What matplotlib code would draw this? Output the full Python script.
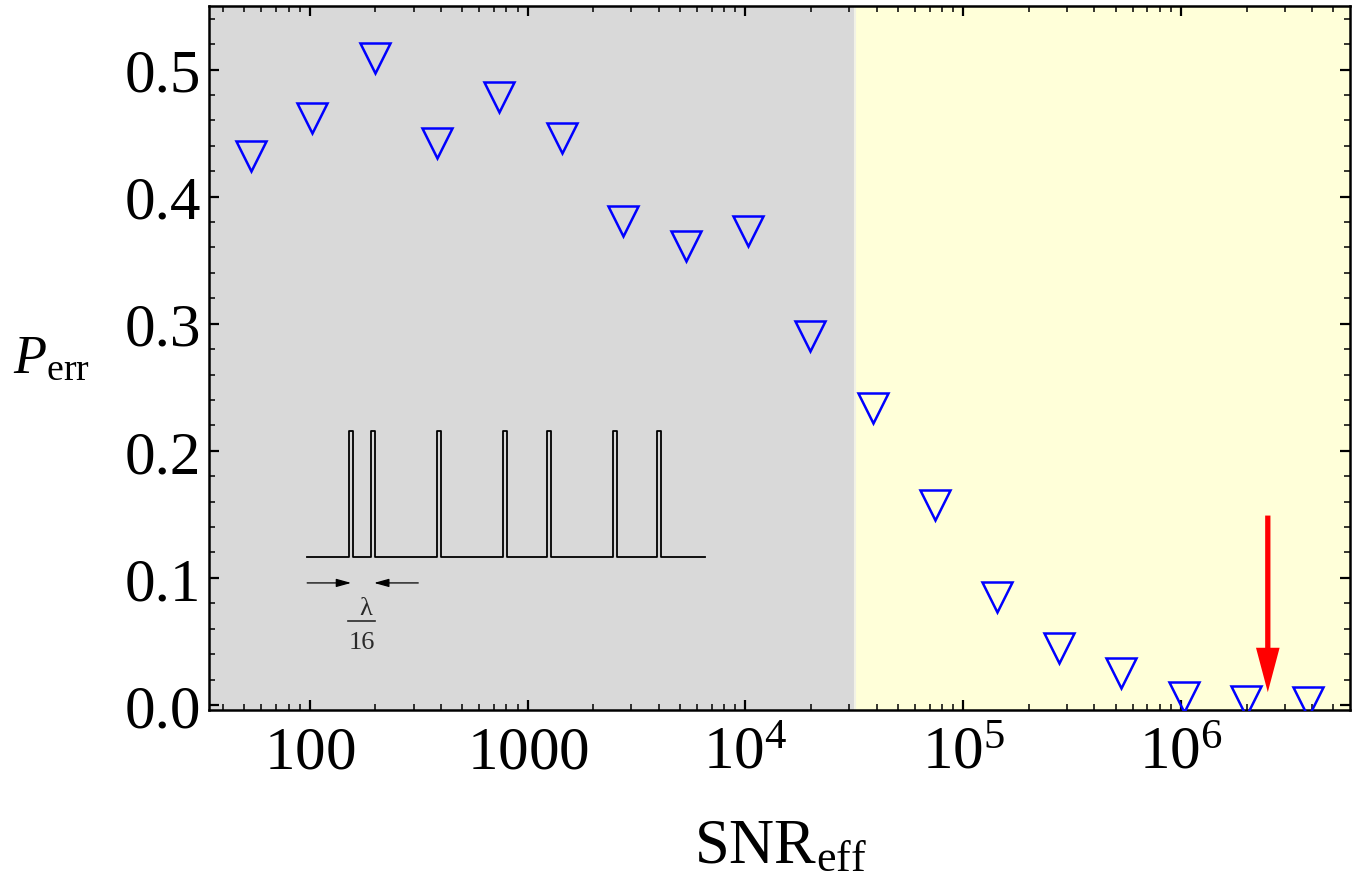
import matplotlib
matplotlib.use('Agg')
import matplotlib.pyplot as plt
from matplotlib.ticker import FixedLocator, LogLocator, MultipleLocator, NullFormatter

plt.rcParams['font.family'] = ['Liberation Serif', 'DejaVu Serif']
plt.rcParams['mathtext.fontset'] = 'custom'
plt.rcParams['mathtext.rm'] = 'Liberation Serif'
plt.rcParams['mathtext.it'] = 'Liberation Serif:italic'

# effective SNR and error probability
snr = [53.6, 102, 199, 386, 736, 1432, 2757, 5357, 10325, 19870,
       38640, 74470, 143200, 275400, 530300, 1.032e6, 1.987e6, 3.83e6]
p_err = [0.432, 0.462, 0.509, 0.442, 0.478, 0.446, 0.381, 0.361, 0.373, 0.290,
         0.234, 0.157, 0.085, 0.045, 0.025, 0.006, 0.003, 0.002]

# regime boundary and marker arrow
snr_split = 3.2e4
arrow_x = 2.5e6
arrow_y = (0.149, 0.010)

# pulse train sketch, positions in units of lambda/16
pulse_pos = [0, 1, 4, 7, 9, 12, 14]
pulse_w = 0.2
train_span = (-1.9, 16.2)

xticks = [100, 1000, 1e4, 1e5, 1e6]
xticklabels = [r'$100$', r'$1000$', r'$10^4$', r'$10^5$', r'$10^6$']
yticks = [0.0, 0.1, 0.2, 0.3, 0.4, 0.5]

fig = plt.figure(figsize=(13.6, 8.78), dpi=100)
ax = fig.add_axes([209 / 1360, (878 - 711) / 878, (1350 - 209) / 1360, (711 - 7) / 878])

ax.set_xscale('log')
ax.set_xlim(34.5, 5.96e6)
ax.set_ylim(-0.004, 0.55)

ax.axvspan(ax.get_xlim()[0], snr_split, color='#d9d9d9', lw=0, zorder=0)
ax.axvspan(snr_split, ax.get_xlim()[1], color='#ffffd9', lw=0, zorder=0)
ax.axvline(snr_split, color='#f2f2e6', lw=1.5, zorder=0.5)

ax.plot(snr, p_err, linestyle='none', marker='v', ms=21, mfc='none',
        mec='#0000ff', mew=1.8, zorder=3)

ax.annotate('', xy=(arrow_x, arrow_y[1]), xytext=(arrow_x, arrow_y[0]),
            arrowprops=dict(arrowstyle='simple,head_length=3.2,head_width=1.7,tail_width=0.38',
                            fc='#ff0000', ec='none', mutation_scale=10,
                            shrinkA=0, shrinkB=0), zorder=4)

# ticks
ax.xaxis.set_major_locator(FixedLocator(xticks))
ax.set_xticklabels(xticklabels)
ax.xaxis.set_minor_locator(LogLocator(base=10, subs=range(2, 10), numticks=20))
ax.xaxis.set_minor_formatter(NullFormatter())
ax.set_yticks(yticks)
ax.set_yticklabels(['%.1f' % v for v in yticks])
ax.yaxis.set_minor_locator(MultipleLocator(0.02))

ax.tick_params(which='both', direction='in', top=True, right=True)
ax.tick_params(which='major', length=7.5, width=1.6, labelsize=44)
ax.tick_params(which='minor', length=4, width=1.1)
ax.tick_params(axis='x', which='major', pad=11)
ax.tick_params(axis='y', which='major', pad=6)
for s in ax.spines.values():
    s.set_linewidth(1.8)

fig.text(780 / 1360, 1 - 863 / 878, r'$\mathrm{SNR}_{\mathrm{eff}}$', fontsize=45,
         ha='center', va='baseline')
fig.text(13 / 1360, 1 - 373 / 878, r'$P_{\mathrm{err}}$', fontsize=39,
         ha='left', va='baseline')

# inset: pulse train
ins = fig.add_axes([290 / 1360, (878 - 660) / 878, 440 / 1360, 250 / 878])
ins.set_xlim(-2.68, 17.32)
ins.set_ylim(-0.81, 1.175)
ins.axis('off')
xs = [train_span[0]]
ys = [0]
for p in pulse_pos:
    xs += [p, p, p + pulse_w, p + pulse_w]
    ys += [0, 1, 1, 0]
xs.append(train_span[1])
ys.append(0)
ins.plot(xs, ys, color='black', lw=1.3)

arr = dict(arrowstyle='-|>,head_length=0.9,head_width=0.25', color='black', lw=0.9,
           shrinkA=0, shrinkB=0)
ins.annotate('', xy=(0.1, -0.206), xytext=(-1.9, -0.206), arrowprops=arr)
ins.annotate('', xy=(1.14, -0.206), xytext=(3.15, -0.206), arrowprops=arr)
ins.text(0.77, -0.405, 'λ', fontsize=19, ha='center', va='center', color='#2a2a2a')
ins.plot([-0.05, 1.18], [-0.508, -0.508], color='#2a2a2a', lw=1.2)
ins.text(0.59, -0.675, '16', fontsize=19, ha='center', va='center', color='#2a2a2a')

fig.savefig('out.png', dpi=100)
